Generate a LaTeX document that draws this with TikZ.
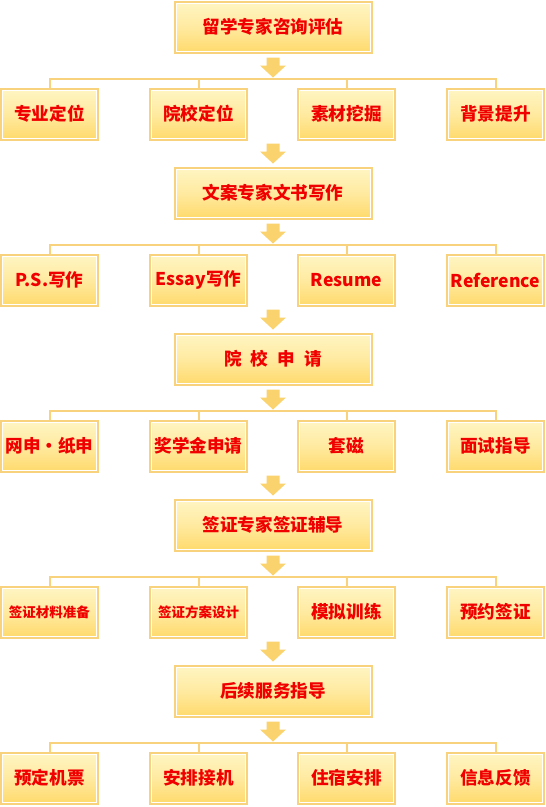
\documentclass[tikz,border=0pt]{standalone}
\usepackage{fontspec}
\newfontfamily\cjk{Noto Sans CJK SC}
\usetikzlibrary{calc}
\definecolor{boxline}{RGB}{249,210,125}
\definecolor{boxtop}{RGB}{255,246,196}
\definecolor{boxmid}{RGB}{255,234,160}
\definecolor{boxbot}{RGB}{255,218,108}
\definecolor{arrowfill}{RGB}{251,211,110}
\definecolor{txtred}{RGB}{240,0,0}
\newcommand\smtext[1]{{\fontsize{13.5}{15}\selectfont #1}}
\tikzset{
    stagebox/.style={draw=boxline, line width=2pt, top color=boxtop, bottom color=boxbot, middle color=boxmid,
        minimum height=51pt, inner sep=0pt, text=txtred, font=\cjk\bfseries\fontsize{17.6}{20}\selectfont,
        path picture={\draw[white, line width=1pt] ([xshift=1.5pt,yshift=-1.5pt]path picture bounding box.north west) rectangle ([xshift=-1.5pt,yshift=1.5pt]path picture bounding box.south east);}},
    mainbox/.style={stagebox, minimum width=197pt},
    subbox/.style={stagebox, minimum width=97pt},
    link/.style={draw=boxline, line width=2pt},
    downarrow/.pic={\fill[arrowfill] (-6.5,0) -- (6.5,0) -- (6.5,8) -- (13,8) -- (0,20) -- (-13,8) -- (-6.5,8) -- cycle;}}
\begin{document}
\begin{tikzpicture}[x=1pt, y=-1pt]
    \useasboundingbox (0,0) rectangle (546,807);
    \foreach \i/\main/\a/\b/\c/\d in {
        1/留学专家咨询评估/专业定位/院校定位/素材挖掘/背景提升,
        2/文案专家文书写作/P.S.写作/Essay写作/Resume/Reference,
        3/院\hspace{9pt}校\hspace{9pt}申\hspace{9pt}请/网申·纸申/奖学金申请/套磁/面试指导,
        4/签证专家签证辅导/\smtext{签证材料准备}/\smtext{签证方案设计}/模拟训练/预约签证,
        5/后续服务指导/预定机票/安排接机/住宿安排/信息反馈}{
        \pgfmathsetmacro\ym{27+166*(\i-1)}
        \pgfmathsetmacro\ys{114+166*(\i-1)}
        \node[mainbox] (m\i) at (273,\ym) {\main};
        \node[subbox] (s\i1) at (49.5,\ys) {\a};
        \node[subbox] (s\i2) at (198.5,\ys) {\b};
        \node[subbox] (s\i3) at (346.5,\ys) {\c};
        \node[subbox] (s\i4) at (495.5,\ys) {\d};
        \pic at ($(m\i.south)+(0,4)$) {downarrow};
        \draw[link] (s\i1.north) -- ++(0,-9) -| (s\i4.north);
        \draw[link] (s\i2.north) -- ++(0,-9);
        \draw[link] (s\i3.north) -- ++(0,-9);
    }
    % arrows from each row down to the next stage
    \foreach \i [evaluate=\i as \j using int(\i+1)] in {1,...,4}
        \pic at ($(m\j.north)+(0,-23)$) {downarrow};
\end{tikzpicture}
\end{document}
